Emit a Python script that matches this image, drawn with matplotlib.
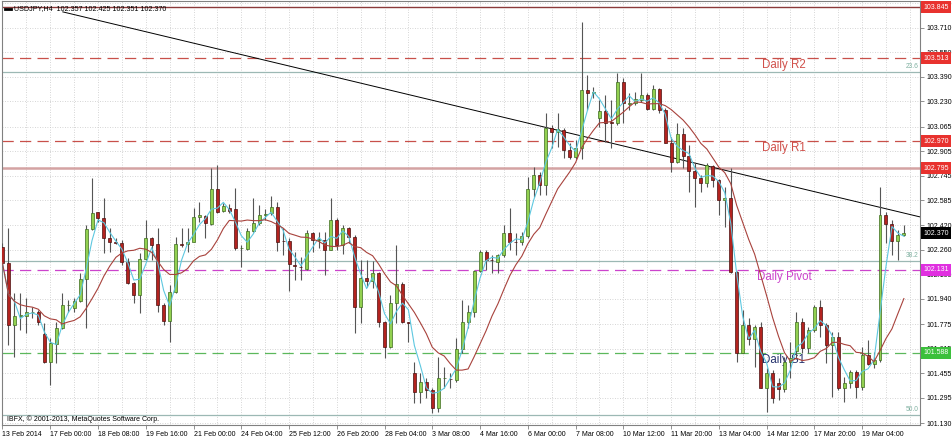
import matplotlib
matplotlib.use("Agg")
import matplotlib.pyplot as plt
import matplotlib.transforms as mtransforms
import numpy as np
import pandas as pd

plt.rcParams["font.family"] = ["Liberation Sans", "DejaVu Sans"]

# USDJPY H4 candles (oldest first)
opens = [
    102.281, 102.173, 101.770, 101.831, 101.831, 101.855, 101.853, 101.709, 101.530, 101.644,
    101.748, 101.900, 101.883, 101.929, 102.068, 102.395, 102.506, 102.471, 102.340, 102.310,
    102.303, 102.183, 102.046, 101.966, 102.199, 102.336, 102.297, 101.900, 101.796, 101.988,
    102.297, 102.297, 102.310, 102.477, 102.484, 102.430, 102.656, 102.514, 102.532, 102.525,
    102.270, 102.266, 102.384, 102.434, 102.490, 102.499, 102.538, 102.320, 102.320, 102.162,
    102.151, 102.136, 102.369, 102.326, 102.326, 102.260, 102.456, 102.293, 102.406, 102.347,
    101.890, 102.075, 102.058, 102.108, 101.792, 101.629, 101.912, 102.036, 101.792, 101.455,
    101.335, 101.400, 101.346, 101.226, 101.422, 101.420, 101.411, 101.611, 101.792, 101.857,
    102.123, 102.249, 102.195, 102.180, 102.228, 102.369, 102.315, 102.313, 102.354, 102.659,
    102.750, 102.685, 103.059, 103.029, 103.044, 102.913, 102.870, 102.929, 103.305, 103.288,
    103.120, 103.168, 103.098, 103.087, 103.360, 103.214, 103.222, 103.240, 103.272, 103.179,
    103.309, 103.174, 102.961, 102.837, 103.018, 102.874, 102.778, 102.728, 102.696, 102.809,
    102.717, 102.587, 102.598, 102.119, 101.590, 101.770, 101.676, 101.759, 101.356, 101.454,
    101.389, 101.350, 101.530, 101.600, 101.792, 101.617, 101.737, 101.889, 101.770, 101.639,
    101.689, 101.356, 101.393, 101.465, 101.363, 101.574, 101.515, 101.542, 102.489, 102.430,
    102.321, 102.357,
]
highs = [
    102.303, 102.401, 101.977, 101.977, 101.944, 101.890, 101.868, 101.781, 101.683, 101.792,
    101.977, 101.933, 101.944, 102.107, 102.423, 102.728, 102.510, 102.597, 102.401, 102.336,
    102.325, 102.205, 102.053, 102.238, 102.456, 102.347, 102.401, 101.911, 102.031, 102.347,
    102.406, 102.401, 102.532, 102.575, 102.488, 102.797, 102.815, 102.564, 102.558, 102.662,
    102.292, 102.401, 102.597, 102.554, 102.527, 102.612, 102.575, 102.401, 102.336, 102.249,
    102.216, 102.390, 102.380, 102.380, 102.380, 102.598, 102.467, 102.424, 102.413, 102.358,
    102.195, 102.195, 102.188, 102.119, 101.797, 101.966, 102.293, 102.053, 101.792, 101.531,
    101.455, 101.422, 101.357, 101.564, 101.498, 101.455, 101.683, 101.934, 101.901, 102.130,
    102.260, 102.260, 102.228, 102.232, 102.424, 102.532, 102.369, 102.380, 102.739, 102.804,
    102.772, 103.153, 103.077, 103.153, 103.055, 102.957, 102.979, 103.751, 103.403, 103.327,
    103.240, 103.273, 103.240, 103.414, 103.381, 103.283, 103.294, 103.414, 103.283, 103.338,
    103.316, 103.185, 103.000, 103.087, 103.055, 102.946, 102.826, 102.750, 102.826, 102.815,
    102.722, 102.674, 102.793, 102.125, 101.868, 101.813, 101.770, 101.792, 101.487, 101.476,
    101.421, 101.563, 101.661, 101.857, 101.813, 101.759, 101.900, 101.933, 101.781, 101.726,
    101.726, 101.432, 101.476, 101.476, 101.628, 101.672, 101.596, 102.674, 102.510, 102.456,
    102.391, 102.425,
]
lows = [
    102.151, 101.639, 101.563, 101.737, 101.715, 101.813, 101.770, 101.525, 101.378, 101.519,
    101.744, 101.857, 101.857, 101.922, 101.748, 102.390, 102.445, 102.238, 102.249, 102.297,
    102.162, 102.035, 101.911, 101.846, 102.194, 102.194, 101.857, 101.770, 101.661, 101.977,
    102.281, 102.249, 102.310, 102.445, 102.336, 102.423, 102.499, 102.506, 102.499, 102.260,
    102.151, 102.260, 102.379, 102.423, 102.456, 102.488, 102.253, 102.227, 101.992, 102.064,
    102.064, 102.129, 102.249, 102.271, 102.097, 102.258, 102.260, 102.232, 102.304, 101.716,
    101.781, 102.021, 102.010, 101.760, 101.553, 101.618, 101.781, 101.781, 101.662, 101.259,
    101.259, 101.292, 101.193, 101.204, 101.357, 101.357, 101.400, 101.585, 101.749, 101.825,
    102.119, 102.130, 102.108, 102.108, 102.217, 102.260, 102.228, 102.293, 102.337, 102.608,
    102.619, 102.619, 102.924, 102.935, 102.859, 102.855, 102.855, 102.855, 103.175, 103.251,
    103.066, 102.968, 102.924, 103.077, 103.087, 103.174, 103.207, 103.229, 103.174, 103.174,
    103.153, 102.957, 102.772, 102.826, 102.793, 102.641, 102.543, 102.641, 102.674, 102.674,
    102.489, 102.413, 102.108, 101.531, 101.590, 101.639, 101.498, 101.356, 101.204, 101.258,
    101.280, 101.334, 101.421, 101.552, 101.585, 101.585, 101.726, 101.694, 101.519, 101.302,
    101.345, 101.269, 101.356, 101.291, 101.345, 101.509, 101.487, 101.531, 102.304, 102.228,
    102.195, 102.351,
]
closes = [
    102.173, 101.770, 101.831, 101.835, 101.853, 101.858, 101.792, 101.530, 101.650, 101.748,
    101.900, 101.902, 101.929, 102.068, 102.395, 102.503, 102.471, 102.340, 102.310, 102.303,
    102.183, 102.042, 101.966, 102.199, 102.336, 102.292, 101.900, 101.796, 101.988, 102.297,
    102.295, 102.314, 102.473, 102.490, 102.434, 102.656, 102.510, 102.547, 102.514, 102.275,
    102.273, 102.384, 102.434, 102.488, 102.494, 102.538, 102.314, 102.318, 102.166, 102.157,
    102.147, 102.368, 102.326, 102.329, 102.260, 102.456, 102.293, 102.406, 102.347, 101.890,
    102.075, 102.058, 102.112, 101.792, 101.629, 101.912, 102.036, 101.792, 101.781, 101.335,
    101.400, 101.346, 101.226, 101.422, 101.424, 101.417, 101.611, 101.792, 101.857, 102.123,
    102.249, 102.195, 102.193, 102.228, 102.369, 102.315, 102.313, 102.354, 102.659, 102.750,
    102.685, 103.059, 103.033, 103.051, 102.913, 102.870, 102.929, 103.305, 103.283, 103.290,
    103.168, 103.088, 103.092, 103.360, 103.218, 103.222, 103.244, 103.272, 103.179, 103.309,
    103.174, 102.961, 102.837, 103.018, 102.874, 102.778, 102.728, 102.696, 102.815, 102.717,
    102.587, 102.598, 102.119, 101.590, 101.770, 101.676, 101.759, 101.356, 101.454, 101.291,
    101.350, 101.530, 101.552, 101.792, 101.617, 101.737, 101.889, 101.770, 101.639, 101.689,
    101.356, 101.393, 101.465, 101.363, 101.574, 101.515, 101.541, 102.489, 102.430, 102.321,
    102.358, 102.370,
]

time_labels = [
    "13 Feb 2014", "17 Feb 00:00", "18 Feb 08:00", "19 Feb 16:00", "21 Feb 00:00",
    "24 Feb 04:00", "25 Feb 12:00", "26 Feb 20:00", "28 Feb 04:00", "3 Mar 08:00",
    "4 Mar 16:00", "6 Mar 00:00", "7 Mar 08:00", "10 Mar 12:00", "11 Mar 20:00",
    "13 Mar 04:00", "14 Mar 12:00", "17 Mar 20:00", "19 Mar 04:00",
]
price_ticks = [101.130, 101.295, 101.455, 101.615, 101.775, 101.940, 102.100, 102.260, 102.420,
               102.585, 102.745, 102.905, 103.065, 103.230, 103.390, 103.550, 103.710, 103.870]

pivot_names = ["Daily R2", "Daily R1", "Daily Pivot", "Daily S1"]
pivot_values = [103.513, 102.970, 102.131, 101.588]
hline_values = [103.845, 102.795]
fib_names = ["23.6", "38.2", "50.0"]
fib_values = [103.423, 102.188, 101.182]
trend_bars = [10.1, 153.7]
trend_prices = [103.815, 102.476]
last_price = 102.370

title = "USDJPY,H4  102.357 102.425 102.351 102.370"
copyright_text = "IBFX, \u00a9 2001-2013, MetaQuotes Software Corp."

df = pd.DataFrame({"Open": opens, "High": highs, "Low": lows, "Close": closes})
df["ma_fast"] = df["Close"].rolling(3, min_periods=1).mean()
df["ma_slow"] = df["Close"].rolling(10, min_periods=1).mean()
bars = np.arange(len(df))

W, H = 952, 438
fig = plt.figure(figsize=(W / 100, H / 100), dpi=100)
left, right, top, bottom = 2, 920, 1, 425
ax = fig.add_axes([left / W, 1 - bottom / H, (right - left) / W, (bottom - top) / H])
ax.set_xlim(-0.08, 153.7)
ax.set_ylim(101.117, 103.886)

grid_c = "#c8c8c8"
for v in price_ticks:
    ax.axhline(v, color=grid_c, lw=0.6, ls=(0, (1, 2)), zorder=1)
for b in range(4, 156, 4):
    ax.axvline(b, color=grid_c, lw=0.6, ls=(0, (1, 2)), zorder=1)

# level lines
ax.axhline(hline_values[0], color="#8b3a3a", lw=1.0, zorder=2)
ax.axhline(hline_values[1], color="#d4a3a3", lw=1.8, zorder=2)
for v in fib_values:
    ax.axhline(v, color="#9cb8b4", lw=0.9, zorder=2)
piv_colors = ["#c8504a", "#c8504a", "#cc44cc", "#5cb85c"]
for v, c in zip(pivot_values, piv_colors):
    ax.axhline(v, color=c, lw=0.9, ls=(0, (9, 5)), zorder=2)

txt_off = mtransforms.offset_copy(ax.transData, fig=fig, x=0, y=-7, units="dots")
piv_text_colors = ["#d0504a", "#d0504a", "#cc44cc", "#26336e"]
for name, v, c in zip(pivot_names, pivot_values, piv_text_colors):
    ax.text(130.9, v, name, transform=txt_off, color=c, fontsize=8.3,
            ha="center", va="center", zorder=2)

fib_off = mtransforms.offset_copy(ax.transData, fig=fig, x=0, y=2, units="dots")
for name, v in zip(fib_names, fib_values):
    ax.text(153.5, v, name, transform=fib_off, color="#7fb0a0", fontsize=4.8,
            ha="right", va="bottom", zorder=2)

# trend line
ax.plot(trend_bars, trend_prices, color="black", lw=0.7, zorder=3)

# candles
up = df["Close"] >= df["Open"]
body_c = np.where(up, "#92d050", "#b3231f")
edge_c = np.where(up, "#3d6b1f", "#4a1010")
ax.vlines(bars, df["Low"], df["High"], color="#555555", lw=0.8, zorder=4)
ax.bar(bars, (df["Close"] - df["Open"]).abs(), bottom=np.minimum(df["Open"], df["Close"]),
       width=0.5, color=body_c, edgecolor=edge_c, linewidth=0.5, zorder=5)

# moving averages
ax.plot(bars, df["ma_fast"], color="#5ec8e0", lw=0.8, zorder=6)
ax.plot(bars, df["ma_slow"], color="#a8423c", lw=0.8, zorder=6)

# axes styling
for s in ax.spines.values():
    s.set_color("#808080")
    s.set_linewidth(0.8)
ax.yaxis.tick_right()
ax.set_yticks(price_ticks)
ax.set_yticklabels([f"{v:.3f}" for v in price_ticks])
ax.tick_params(axis="y", length=3, width=0.6, color="#808080", labelsize=5, pad=1.5)
ax.set_xticks(bars[::8][:len(time_labels)])
ax.set_xticklabels(time_labels)
ax.tick_params(axis="x", length=3, width=0.6, color="#808080", labelsize=5, pad=1)
for lbl in ax.get_xticklabels():
    lbl.set_horizontalalignment("left")

# price boxes on the right axis
box_trans = mtransforms.blended_transform_factory(ax.transAxes, ax.transData)
box_values = [hline_values[0], pivot_values[0], pivot_values[1], hline_values[1],
              last_price, pivot_values[2], pivot_values[3]]
box_colors = ["#e8322e", "#e8322e", "#e8322e", "#e8322e", "#000000", "#e030e0", "#3cc03c"]
for v, c in zip(box_values, box_colors):
    ax.text(1.0 + 3 / (right - left), v, f"{v:.3f}", transform=box_trans, fontsize=5,
            color="white", ha="left", va="center", clip_on=False, zorder=10,
            bbox=dict(boxstyle="square,pad=0.35", fc=c, ec=c, lw=0))

# header and footer texts
ax.text(12 / (right - left), 1 - 8 / (bottom - top), title, transform=ax.transAxes,
        fontsize=5.1, ha="left", va="center", zorder=10)
ax.plot([3 / (right - left), 9 / (right - left)], [1 - 8 / (bottom - top)] * 2,
        transform=ax.transAxes, color="black", lw=2, zorder=10)
ax.text(5 / (right - left), 6 / (bottom - top), copyright_text, transform=ax.transAxes,
        fontsize=5, ha="left", va="center", zorder=10)

fig.savefig("out.png", dpi=100, facecolor="white")
